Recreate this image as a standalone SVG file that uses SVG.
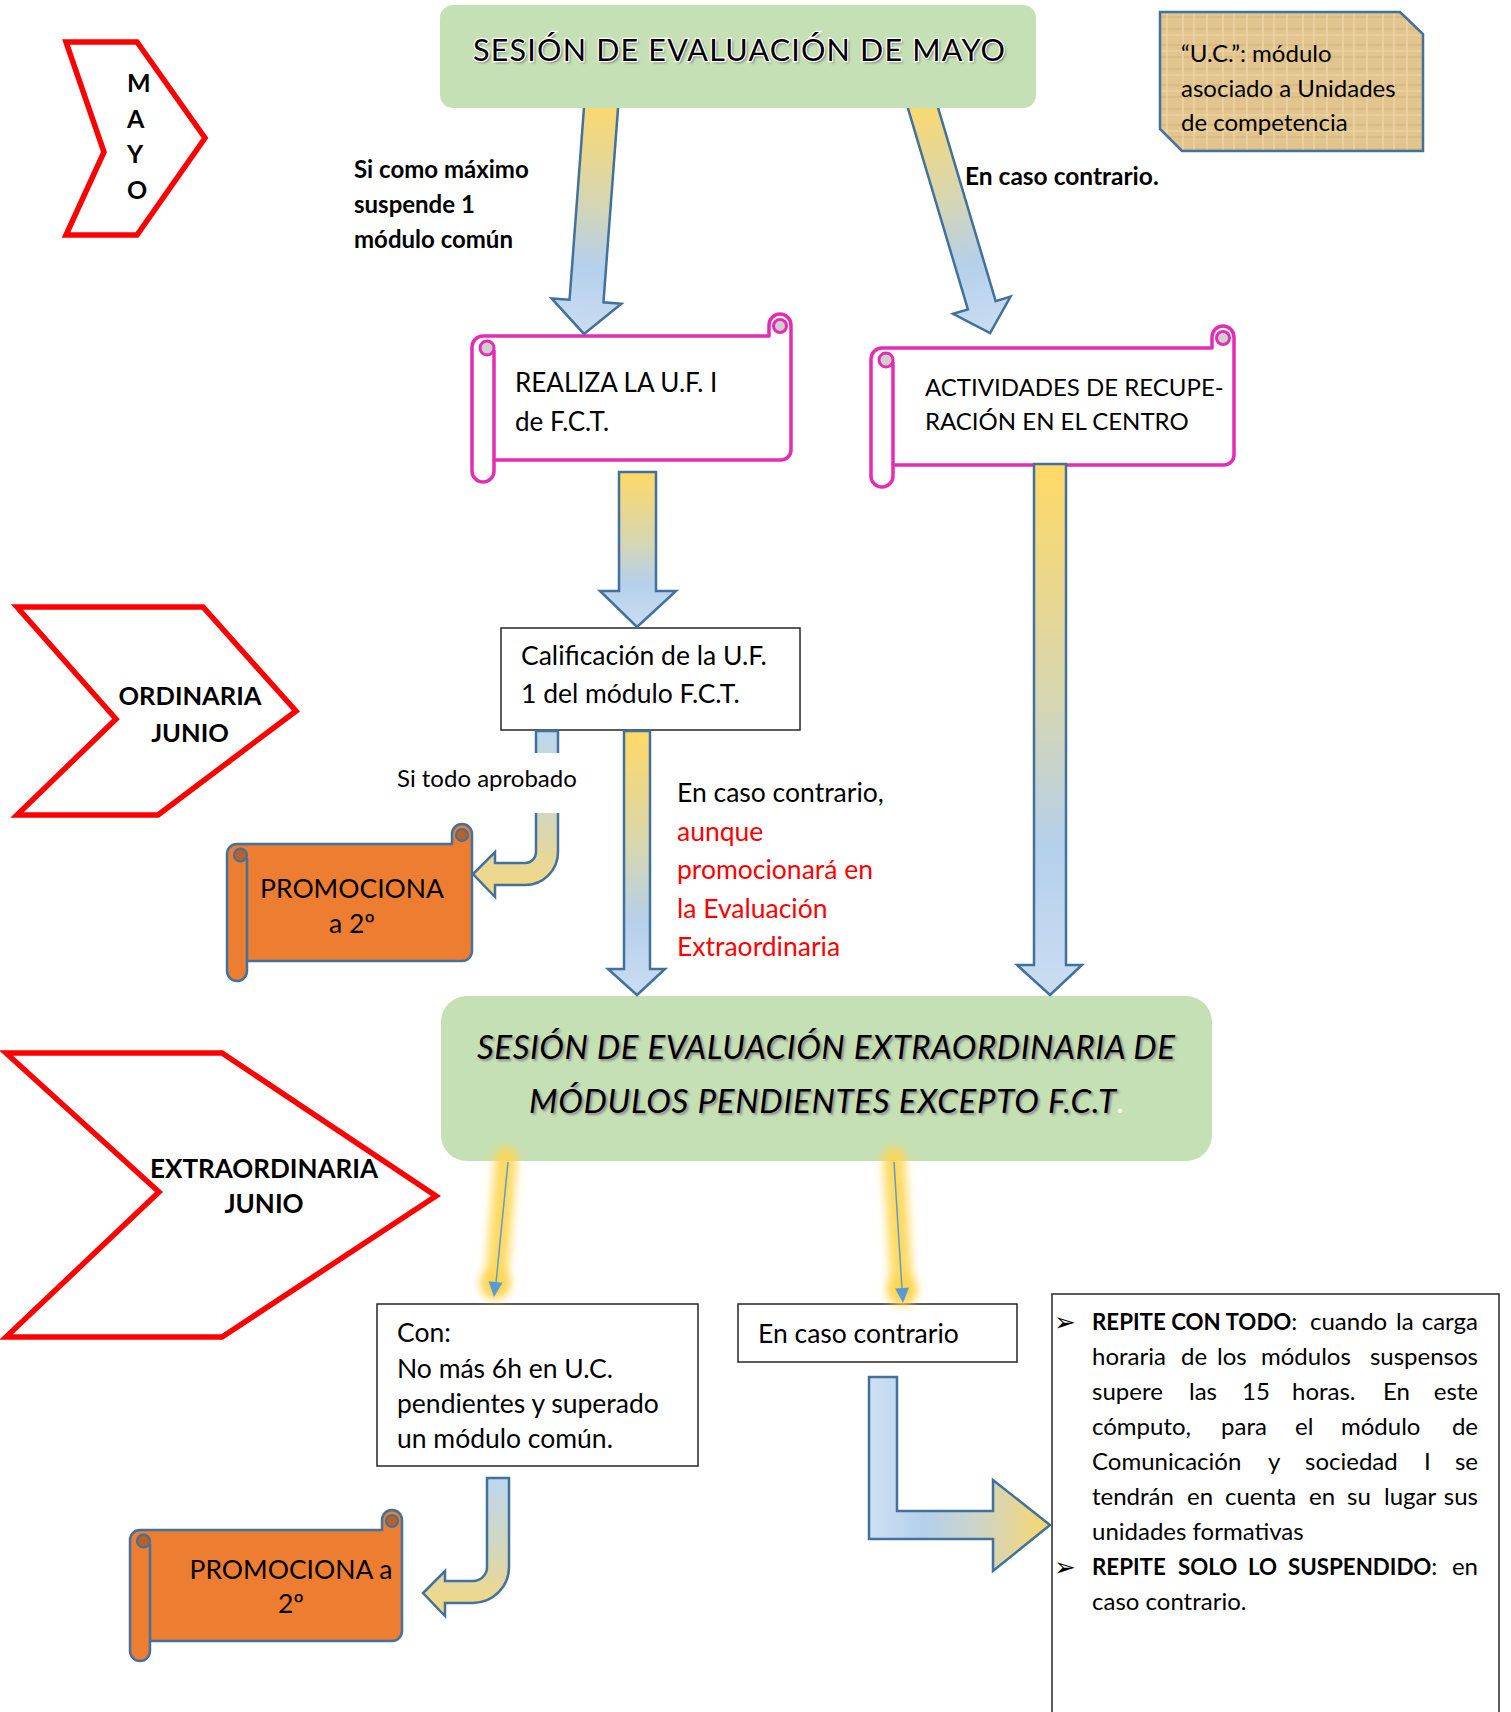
<svg xmlns="http://www.w3.org/2000/svg" width="1511" height="1712" viewBox="0 0 1511 1712">
<defs>
<style>
.t{font-family:Lato,"Liberation Sans",sans-serif;fill:#000}
.b{font-weight:700}
.n{font-weight:400}
.i{font-style:italic}
.r{fill:#f00}
.chev{fill:#fff;stroke:#f00;stroke-width:5.5;stroke-linejoin:miter}
.sp{fill:#fff;stroke:#E42DB4;stroke-width:3.5;stroke-linejoin:round}
.spc{fill:#D0CECE;stroke:#E42DB4;stroke-width:3}
.spl{fill:none;stroke:#E42DB4;stroke-width:3.5}
.so{fill:#ED7D31;stroke:#41719C;stroke-width:2.5;stroke-linejoin:round}
.soc{fill:#B8612B;stroke:#41719C;stroke-width:2.2}
.sol{fill:none;stroke:#41719C;stroke-width:2.5}
.arr{stroke:#41719C;stroke-width:2.5;stroke-linejoin:miter}
.box{fill:#fff;stroke:#262626;stroke-width:1.5}
.green{fill:#C5E0B4}
.bul{font-family:"DejaVu Sans",sans-serif;fill:#000}
</style>
<linearGradient id="gYB" x1="0" y1="0" x2="0" y2="1">
<stop offset="0" stop-color="#FFD966"/>
<stop offset="0.45" stop-color="#D6D6B2"/>
<stop offset="0.72" stop-color="#B5D0EB"/>
<stop offset="1" stop-color="#CADDF2"/>
</linearGradient>
<linearGradient id="gBY" x1="0" y1="0" x2="0" y2="1">
<stop offset="0" stop-color="#BDD7EE"/>
<stop offset="0.5" stop-color="#D3D7BE"/>
<stop offset="1" stop-color="#F7D87C"/>
</linearGradient>
<linearGradient id="gH" x1="0" y1="0" x2="1" y2="0">
<stop offset="0" stop-color="#CFE1F3"/>
<stop offset="0.3" stop-color="#B4D0EC"/>
<stop offset="0.6" stop-color="#CDD5C8"/>
<stop offset="1" stop-color="#FAD66A"/>
</linearGradient>
<pattern id="papyrus" width="40" height="40" patternUnits="userSpaceOnUse">
<rect width="40" height="40" fill="#E2C58E"/>
<path d="M0 5H40M0 17H40M0 29H40" stroke="#D2B07A" stroke-width="2" opacity="0.55"/>
<path d="M7 0V40M23 0V40M34 0V40" stroke="#EDD9AA" stroke-width="2" opacity="0.6"/>
<path d="M0 11H40M0 35H40" stroke="#F0DDB0" stroke-width="1.5" opacity="0.5"/>
</pattern>
<filter id="blur1" x="-0.05" y="-0.5" width="1.1" height="2"><feGaussianBlur stdDeviation="1.2"/></filter>
<filter id="glow" filterUnits="userSpaceOnUse" x="420" y="1110" width="560" height="230"><feGaussianBlur stdDeviation="5"/></filter>
<clipPath id="belowTop"><rect x="0" y="108" width="1511" height="1604"/></clipPath>
</defs>

<rect width="1511" height="1712" fill="#fff"/>

<g id="chevron-mayo">
<polygon class="chev" points="66,42 137,42 205,138 137,235 66,235 104,152"/>
<text class="t b" font-size="25" x="127" y="92">M</text>
<text class="t b" font-size="25" x="127" y="128">A</text>
<text class="t b" font-size="25" x="127" y="163">Y</text>
<text class="t b" font-size="25" x="127" y="199">O</text>
</g>

<g id="chevron-ordinaria">
<polygon class="chev" points="17,607 203,607 296,711 158,815 17,815 116,719"/>
<text class="t b" font-size="25.5" x="190" y="705" text-anchor="middle">ORDINARIA</text>
<text class="t b" font-size="25.5" x="190" y="742" text-anchor="middle">JUNIO</text>
</g>

<g id="chevron-extraordinaria">
<polygon class="chev" points="6,1053 222,1053 436,1196 222,1337 6,1337 159,1192"/>
<text class="t b" font-size="26" x="264" y="1178" text-anchor="middle">EXTRAORDINARIA</text>
<text class="t b" font-size="26" x="264" y="1213" text-anchor="middle">JUNIO</text>
</g>

<g id="sesion-mayo">
<rect class="green" x="440" y="5" width="596" height="103" rx="13"/>
<text class="t" font-size="30.5" x="475" y="63" textLength="532" style="fill:#7f7f7f" filter="url(#blur1)">SESIÓN DE EVALUACIÓN DE MAYO</text>
<text class="t" font-size="30.5" x="473" y="61" textLength="532" stroke="#fff" stroke-width="2.5" paint-order="stroke">SESIÓN DE EVALUACIÓN DE MAYO</text>
</g>

<g id="nota-uc">
<polygon points="1160,12 1400,12 1423,34 1423,151 1182,151 1160,129" fill="url(#papyrus)" stroke="#41719C" stroke-width="2.5"/>
<text class="t" font-size="24" x="1181" y="62">“U.C.”: módulo</text>
<text class="t" font-size="24" x="1181" y="97">asociado a Unidades</text>
<text class="t" font-size="24" x="1181" y="131">de competencia</text>
</g>

<g id="label-si-como">
<text class="t b" font-size="24" x="354" y="178">Si como máximo</text>
<text class="t b" font-size="24" x="354" y="213">suspende 1</text>
<text class="t b" font-size="24" x="354" y="248">módulo común</text>
</g>

<g id="label-caso-contrario-mayo">
<text class="t b" font-size="24.5" x="965" y="185">En caso contrario.</text>
</g>

<g id="realiza-uf">
<path class="sp" d="M483,336 H769 V325 A11 11 0 0 1 791,325 V450 A10 10 0 0 1 781,460 H494 V471 A11 11 0 0 1 472,471 V347 A11 11 0 0 1 483,336 Z"/>
<path class="spl" d="M494,350 V460"/>
<circle class="spc" cx="487" cy="348" r="7"/>
<circle class="spc" cx="780" cy="326" r="6.5"/>
<text class="t" font-size="26" x="515" y="392">REALIZA LA U.F. I</text>
<text class="t" font-size="26" x="515" y="431">de F.C.T.</text>
</g>

<g id="actividades-recuperacion">
<path class="sp" d="M882,348 H1212 V337 A11 11 0 0 1 1234,337 V455 A10 10 0 0 1 1224,465 H893 V476 A11 11 0 0 1 871,476 V359 A11 11 0 0 1 882,348 Z"/>
<path class="spl" d="M893,362 V465"/>
<circle class="spc" cx="886" cy="360" r="7"/>
<circle class="spc" cx="1223" cy="338" r="6.5"/>
<text class="t" font-size="24" x="925" y="396">ACTIVIDADES DE RECUPE-</text>
<text class="t" font-size="24" x="925" y="430">RACIÓN EN EL CENTRO</text>
</g>

<g id="calificacion">
<rect class="box" x="501" y="628" width="299" height="102"/>
<text class="t" font-size="26.5" x="521" y="665">Calificación de la U.F.</text>
<text class="t" font-size="26.5" x="521" y="703">1 del módulo F.C.T.</text>
</g>

<g id="label-caso-contrario-junio">
<text class="t" font-size="26.5" x="677" y="802">En caso contrario,</text>
<text class="t r" font-size="26.5" x="677" y="841">aunque</text>
<text class="t r" font-size="26.5" x="677" y="879">promocionará en</text>
<text class="t r" font-size="26.5" x="677" y="918">la Evaluación</text>
<text class="t r" font-size="26.5" x="677" y="956">Extraordinaria</text>
</g>

<g id="promociona-1">
<path class="so" d="M237,844 H452 V834 A10 10 0 0 1 472,834 V951 A10 10 0 0 1 462,961 H247 V971 A10 10 0 0 1 227,971 V854 A10 10 0 0 1 237,844 Z"/>
<path class="sol" d="M247,858 V961"/>
<circle class="soc" cx="240.5" cy="855" r="6.5"/>
<circle class="soc" cx="462" cy="835" r="6"/>
<text class="t" font-size="26.5" x="352" y="898" text-anchor="middle">PROMOCIONA</text>
<text class="t" font-size="26.5" x="352" y="933" text-anchor="middle">a 2º</text>
</g>

<g id="sesion-extraordinaria">
<rect class="green" x="441" y="996" width="771" height="165" rx="26"/>
<text class="t i" font-size="33" x="479" y="1061" textLength="698" style="fill:#8a8a8a" filter="url(#blur1)">SESIÓN DE EVALUACIÓN EXTRAORDINARIA DE</text>
<text class="t i" font-size="33" x="477" y="1059" textLength="698">SESIÓN DE EVALUACIÓN EXTRAORDINARIA DE</text>
<text class="t i" font-size="33" x="531" y="1115" textLength="587" style="fill:#8a8a8a" filter="url(#blur1)">MÓDULOS PENDIENTES EXCEPTO F.C.T</text>
<text class="t i" font-size="33" x="529" y="1113" textLength="587">MÓDULOS PENDIENTES EXCEPTO F.C.T</text>
<text class="t i" font-size="33" x="1117" y="1113" style="fill:#fff">.</text>
</g>

<g id="con-condiciones">
<rect class="box" x="377" y="1304" width="321" height="162"/>
<text class="t" font-size="26.5" x="397" y="1342">Con:</text>
<text class="t" font-size="26.5" x="397" y="1378">No más 6h en U.C.</text>
<text class="t" font-size="26.5" x="397" y="1413">pendientes y superado</text>
<text class="t" font-size="26.5" x="397" y="1448">un módulo común.</text>
</g>

<g id="en-caso-contrario">
<rect class="box" x="738" y="1304" width="279" height="58"/>
<text class="t" font-size="26.5" x="758" y="1343">En caso contrario</text>
</g>

<g id="promociona-2">
<path class="so" d="M140,1530 H382 V1520 A10 10 0 0 1 402,1520 V1631 A10 10 0 0 1 392,1641 H150 V1651 A10 10 0 0 1 130,1651 V1540 A10 10 0 0 1 140,1530 Z"/>
<path class="sol" d="M150,1544 V1641"/>
<circle class="soc" cx="143.5" cy="1541" r="6.5"/>
<circle class="soc" cx="392" cy="1521" r="6"/>
<text class="t" font-size="26.5" x="291" y="1579" text-anchor="middle">PROMOCIONA a</text>
<text class="t" font-size="26.5" x="291" y="1613" text-anchor="middle">2º</text>
</g>

<g id="repite">
<rect class="box" x="1052" y="1294" width="447" height="440"/>
<text class="bul" font-size="26" x="1054" y="1331">➢</text>
<text class="t b" font-size="22.3" x="1092" y="1330">REPITE CON TODO<tspan class="n" font-size="24">:</tspan></text>
<text class="t" font-size="24" y="1330"><tspan x="1310">cuando</tspan><tspan x="1396">la</tspan></text>
<text class="t" font-size="24" x="1478" y="1330" text-anchor="end">carga</text>
<text class="t" font-size="24" y="1365"><tspan x="1092">horaria</tspan><tspan x="1181">de</tspan><tspan x="1217">los</tspan><tspan x="1261">módulos</tspan></text>
<text class="t" font-size="24" x="1478" y="1365" text-anchor="end">suspensos</text>
<text class="t" font-size="24" y="1400"><tspan x="1092">supere</tspan><tspan x="1189">las</tspan><tspan x="1242">15</tspan><tspan x="1292">horas.</tspan><tspan x="1383">En</tspan></text>
<text class="t" font-size="24" x="1478" y="1400" text-anchor="end">este</text>
<text class="t" font-size="24" y="1435"><tspan x="1092">cómputo,</tspan><tspan x="1221">para</tspan><tspan x="1295">el</tspan><tspan x="1341">módulo</tspan></text>
<text class="t" font-size="24" x="1478" y="1435" text-anchor="end">de</text>
<text class="t" font-size="24" y="1470"><tspan x="1092">Comunicación</tspan><tspan x="1268">y</tspan><tspan x="1305">sociedad</tspan><tspan x="1424">I</tspan></text>
<text class="t" font-size="24" x="1478" y="1470" text-anchor="end">se</text>
<text class="t" font-size="24" y="1505"><tspan x="1092">tendrán</tspan><tspan x="1187">en</tspan><tspan x="1225">cuenta</tspan><tspan x="1309">en</tspan><tspan x="1347">su</tspan><tspan x="1384">lugar</tspan></text>
<text class="t" font-size="24" x="1478" y="1505" text-anchor="end">sus</text>
<text class="t" font-size="24" x="1092" y="1540">unidades formativas</text>
<text class="bul" font-size="26" x="1054" y="1576">➢</text>
<text class="t b" font-size="22.3" y="1575"><tspan x="1092">REPITE</tspan><tspan x="1178">SOLO</tspan><tspan x="1248">LO</tspan><tspan x="1288">SUSPENDIDO</tspan><tspan class="n" font-size="24">:</tspan></text>
<text class="t" font-size="24" x="1478" y="1575" text-anchor="end">en</text>
<text class="t" font-size="24" x="1092" y="1610">caso contrario.</text>
</g>

<g id="connectors">
<g clip-path="url(#belowTop)">
<path class="arr" fill="url(#gYB)" transform="translate(601,108) rotate(4.3)" d="M-17,-15 H17 V193.6 H35 L0,226.6 L-35,193.6 H-17 Z"/>
<path class="arr" fill="url(#gYB)" transform="translate(923,108) rotate(-16.6)" d="M-14.5,-20 H14.5 V205.8 H30 L0,234.8 L-30,205.8 H-14.5 Z"/>
</g>
<path class="arr" fill="url(#gYB)" d="M619,472 H656 V591 H676 L637,627 L600,591 H619 Z"/>
<path class="arr" fill="url(#gYB)" d="M624,731 H650 V969 H665 L637,995 L608,969 H624 Z"/>
<path class="arr" fill="url(#gYB)" d="M1034,464 H1066 V965 H1082 L1050,995 L1017,965 H1034 Z"/>
<path class="arr" fill="url(#gBY)" d="M536,731 H558 V852 A33 33 0 0 1 525,885 H495 V897 L473,874 L495,852 V863 H525 A11 11 0 0 0 536,852 Z"/>
<rect x="392" y="753" width="200" height="60" fill="#fff"/>
<text class="t" font-size="24" x="397" y="787">Si todo aprobado</text>
<path class="arr" fill="url(#gBY)" d="M487,1478 H509 V1567 A36 36 0 0 1 473,1603 H445 V1616 L423,1593 L445,1571 V1581 H473 A14 14 0 0 0 487,1567 Z"/>
<path class="arr" fill="url(#gH)" d="M869,1377 H897 V1511 H993 V1480 L1050,1525 L993,1571 V1539 H869 Z"/>
<g id="glow-arrow-left">
<path d="M506,1158 L496,1284" stroke="#FFD54F" stroke-width="22" stroke-linecap="round" fill="none" opacity="0.9" filter="url(#glow)"/>
<circle cx="495" cy="1284" r="15" fill="#FFD54F" opacity="0.9" filter="url(#glow)"/>
<path d="M508,1162 L496,1283" stroke="#5B9BD5" stroke-width="1.5" fill="none"/>
<polygon points="494,1297 488.5,1281.3 502.5,1282.7" fill="#5B9BD5"/>
</g>
<g id="glow-arrow-right">
<path d="M894,1158 L902,1290" stroke="#FFD54F" stroke-width="22" stroke-linecap="round" fill="none" opacity="0.9" filter="url(#glow)"/>
<circle cx="902" cy="1290" r="15" fill="#FFD54F" opacity="0.9" filter="url(#glow)"/>
<path d="M894,1162 L902,1289" stroke="#5B9BD5" stroke-width="1.5" fill="none"/>
<polygon points="903,1303 895.1,1288.4 909.1,1287.6" fill="#5B9BD5"/>
</g>
</g>
</svg>
